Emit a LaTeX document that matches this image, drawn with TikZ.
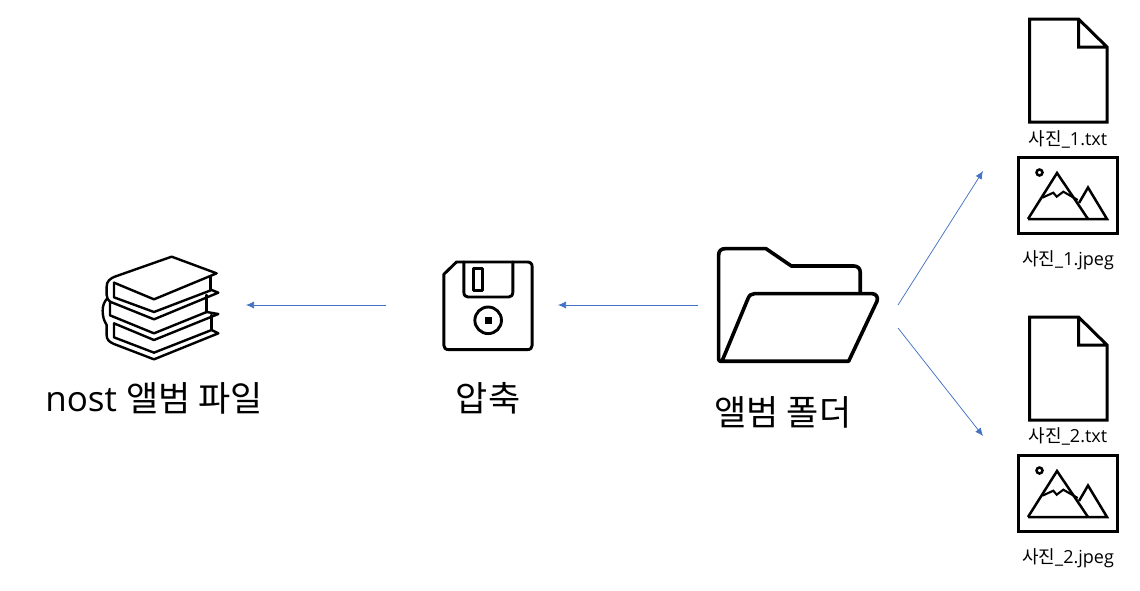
\documentclass[tikz,border=0pt]{standalone}
\usepackage{fontspec}
\setmainfont{Open Sans}
\newfontfamily\kr{Noto Sans CJK KR}
\definecolor{arrowblue}{HTML}{4472C4}
\usetikzlibrary{arrows.meta}
\tikzset{
  icon/.style={line width=2.9pt,line join=round,line cap=round,black},
  thinicon/.style={line width=2.5pt,line join=miter,black},
  flow/.style={arrowblue,line width=0.75pt,-{Latex[length=8pt,width=7pt]}},
  biglabel/.style={inner sep=0pt,font=\fontsize{35}{40}\selectfont},
  smalllabel/.style={inner sep=0pt,font=\fontsize{18}{22}\selectfont},
  doc/.pic={
    \draw[thinicon,line width=3pt] (1029.5,19) -- (1029.5,122) -- (1107,122) -- (1107,47) -- (1078.5,19) -- cycle (1078.5,19) -- (1078.5,47) -- (1107,47);
  },
  picture icon/.pic={
    \draw[thinicon,line width=3pt] (1018,157.5) rectangle (1117,233);
    \draw[thinicon] (1039.5,172.5) circle (3pt);
    \draw[thinicon] (1028,219) -- (1057,173) -- (1088,219);
    \draw[thinicon] (1028,219) -- (1107,219) -- (1088,187.5) -- (1079,203);
    \draw[thinicon,line width=2.1pt] (1042.3,197.7) -- (1053.3,192.7) -- (1056.7,196.7) -- (1063.3,191.7) -- (1077.7,200);
  }
}
\begin{document}
\begin{tikzpicture}[x=1pt,y=-1pt]
\useasboundingbox (0,0) rectangle (1140,590);
% books
\begin{scope}[shift={(90,240)},x=0.3333pt,y=-0.3333pt,icon,line width=2.4pt]
\draw (72,128) -- (192,178) -- (380,100) -- (245,50) -- (80,108) .. controls (58,115) and (50,125) .. (50,140) -- (50,165) .. controls (50,175) and (55,180) .. (60,185);
\draw (72,128) -- (72,172) -- (192,216) -- (365,150) -- (385,158) -- (192,238) -- (60,185) -- (60,226) -- (192,280) -- (350,216) -- (385,222) -- (192,300) -- (72,250) -- (72,292) -- (192,338) -- (365,270) -- (385,280) -- (192,358) -- (72,312) .. controls (55,305) and (50,297) .. (50,285) -- (50,255) .. controls (42,242) and (38,230) .. (38,212) .. controls (38,198) and (42,186) .. (51,176);
\draw (362,108) -- (362,150);
\draw (350,165) -- (350,216);
\draw (365,225) -- (365,270);
\end{scope}
% floppy
\begin{scope}[shift={(430.5,250.3)},x=0.3333pt,y=-0.3333pt,icon]
\draw (40,72) -- (78,35) -- (290,35) .. controls (300,35) and (305,40) .. (305,50) -- (305,285) .. controls (305,293) and (300,298) .. (290,298) -- (55,298) .. controls (45,298) and (40,293) .. (40,285) -- cycle;
\draw (100,35) -- (100,125) .. controls (100,135) and (105,140) .. (112,140) -- (235,140) .. controls (242,140) and (247,135) .. (247,125) -- (247,35);
\draw (130,55) rectangle (155,120);
\draw (173,210) circle (13.3pt);
\fill (162,199) rectangle (184,221);
\end{scope}
% folder
\begin{scope}[shift={(705.3,235.3)},x=0.3333pt,y=-0.3333pt,icon,line width=3.6pt]
\draw (50,378) -- (45,378) .. controls (42,378) and (40,375) .. (40,370) -- (40,60) .. controls (40,47) and (47,40) .. (60,40) -- (182,40) -- (258,92) -- (445,92) .. controls (458,92) and (465,100) .. (465,112) -- (465,172);
\draw (50,378) -- (128,190) .. controls (132,180) and (138,175) .. (148,175) -- (500,175) .. controls (512,175) and (520,186) .. (515,198) -- (430,378) -- cycle;
\end{scope}
% files
\pic {doc};
\pic {picture icon};
\begin{scope}[yshift=-298pt]
\pic {doc};
\pic {picture icon};
\end{scope}
% labels
\node[biglabel] (albumfile) at (154,398) {nost {\kr 앨범 파일}};
\node[biglabel] (zip) at (488,398) {\kr 압축};
\node[biglabel] (folder) at (783,412) {\kr 앨범 폴더};
\node[smalllabel] (t1) at (1068,139.5) {{\kr 사진}\_1.txt};
\node[smalllabel] (j1) at (1068,260) {{\kr 사진}\_1.jpeg};
\node[smalllabel] (t2) at (1068,436.5) {{\kr 사진}\_2.txt};
\node[smalllabel] (j2) at (1068,558) {{\kr 사진}\_2.jpeg};
% connectors
\coordinate (zipL) at (386,305);
\coordinate (bookR) at (246,305);
\coordinate (folderL) at (698,305);
\coordinate (zipR) at (558,305);
\coordinate (folderUp) at (898,305);
\coordinate (filesUp) at (983,171);
\coordinate (folderDn) at (898,328);
\coordinate (filesDn) at (983,436);
\draw[flow] (zipL) -- (bookR);
\draw[flow] (folderL) -- (zipR);
\draw[flow] (folderUp) -- (filesUp);
\draw[flow] (folderDn) -- (filesDn);
\end{tikzpicture}
\end{document}
